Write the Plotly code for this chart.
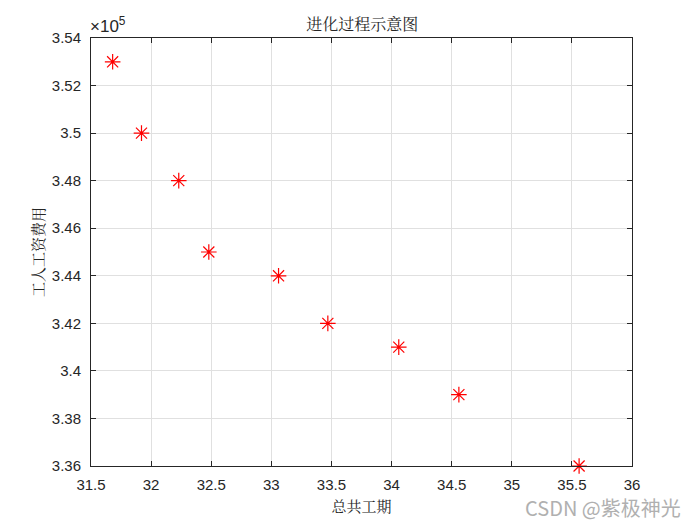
import plotly.graph_objects as go

# datos
total_duration = [31.68, 31.92, 32.23, 32.48, 33.06, 33.47, 34.06, 34.56, 35.56]
labor_cost = [353000, 350000, 348000, 345000, 344000, 342000, 341000, 339000, 336000]

x_ticks = [31.5, 32, 32.5, 33, 33.5, 34, 34.5, 35, 35.5, 36]
y_ticks = [336000, 338000, 340000, 342000, 344000, 346000, 348000, 350000, 352000, 354000]
y_ticktext = ['3.36', '3.38', '3.4', '3.42', '3.44', '3.46', '3.48', '3.5', '3.52', '3.54']

tick_font = dict(family='Arial, Liberation Sans', size=15, color='#262626')
cjk_font = 'Noto Serif CJK SC, Noto Sans CJK SC'

fig = go.Figure()
fig.add_trace(go.Scatter(
    x=total_duration, y=labor_cost, mode='markers',
    marker=dict(symbol='asterisk-open', size=13, color='red',
                line=dict(color='red', width=1.2)),
    cliponaxis=False, showlegend=False))

axis_common = dict(showline=True, linecolor='#262626', linewidth=1, mirror='ticks',
                   ticks='inside', ticklen=5, tickcolor='#262626',
                   showgrid=True, gridcolor='#e0e0e0', gridwidth=1,
                   zeroline=False, tickfont=tick_font)

fig.update_xaxes(range=[31.5, 36], tickvals=x_ticks, ticktext=[f'{v:g}' for v in x_ticks],
                 ticklabelstandoff=5,
                 title=dict(text='总共工期', font=dict(family=cjk_font, size=15, color='#262626'),
                            standoff=9), **axis_common)
fig.update_yaxes(range=[336000, 354000], tickvals=y_ticks, ticktext=y_ticktext,
                 ticklabelstandoff=6,
                 title=dict(text='工人工资费用', font=dict(family=cjk_font, size=15, color='#262626'),
                            standoff=3), **axis_common)

fig.add_annotation(text='×10<sup>5</sup>', xref='paper', yref='paper', x=-0.005, y=1,
                   xanchor='left', yanchor='bottom', showarrow=False,
                   font=dict(family='Arial, Liberation Sans', size=17, color='#262626'))
fig.add_annotation(text='CSDN @紫极神光', xref='paper', yref='paper', x=1.094, y=-0.098,
                   xanchor='right', yanchor='middle', showarrow=False,
                   font=dict(family='Noto Sans CJK SC', size=20, color='#b0b0b0'))

fig.update_layout(
    width=700, height=525,
    margin=dict(l=83, r=76, t=30, b=67),
    paper_bgcolor='white', plot_bgcolor='white',
    title=dict(text='进化过程示意图', x=0.506, xanchor='center', y=0.9695, yanchor='middle',
               font=dict(family=cjk_font, size=16, color='#262626')))

fig.write_html("out.html")
